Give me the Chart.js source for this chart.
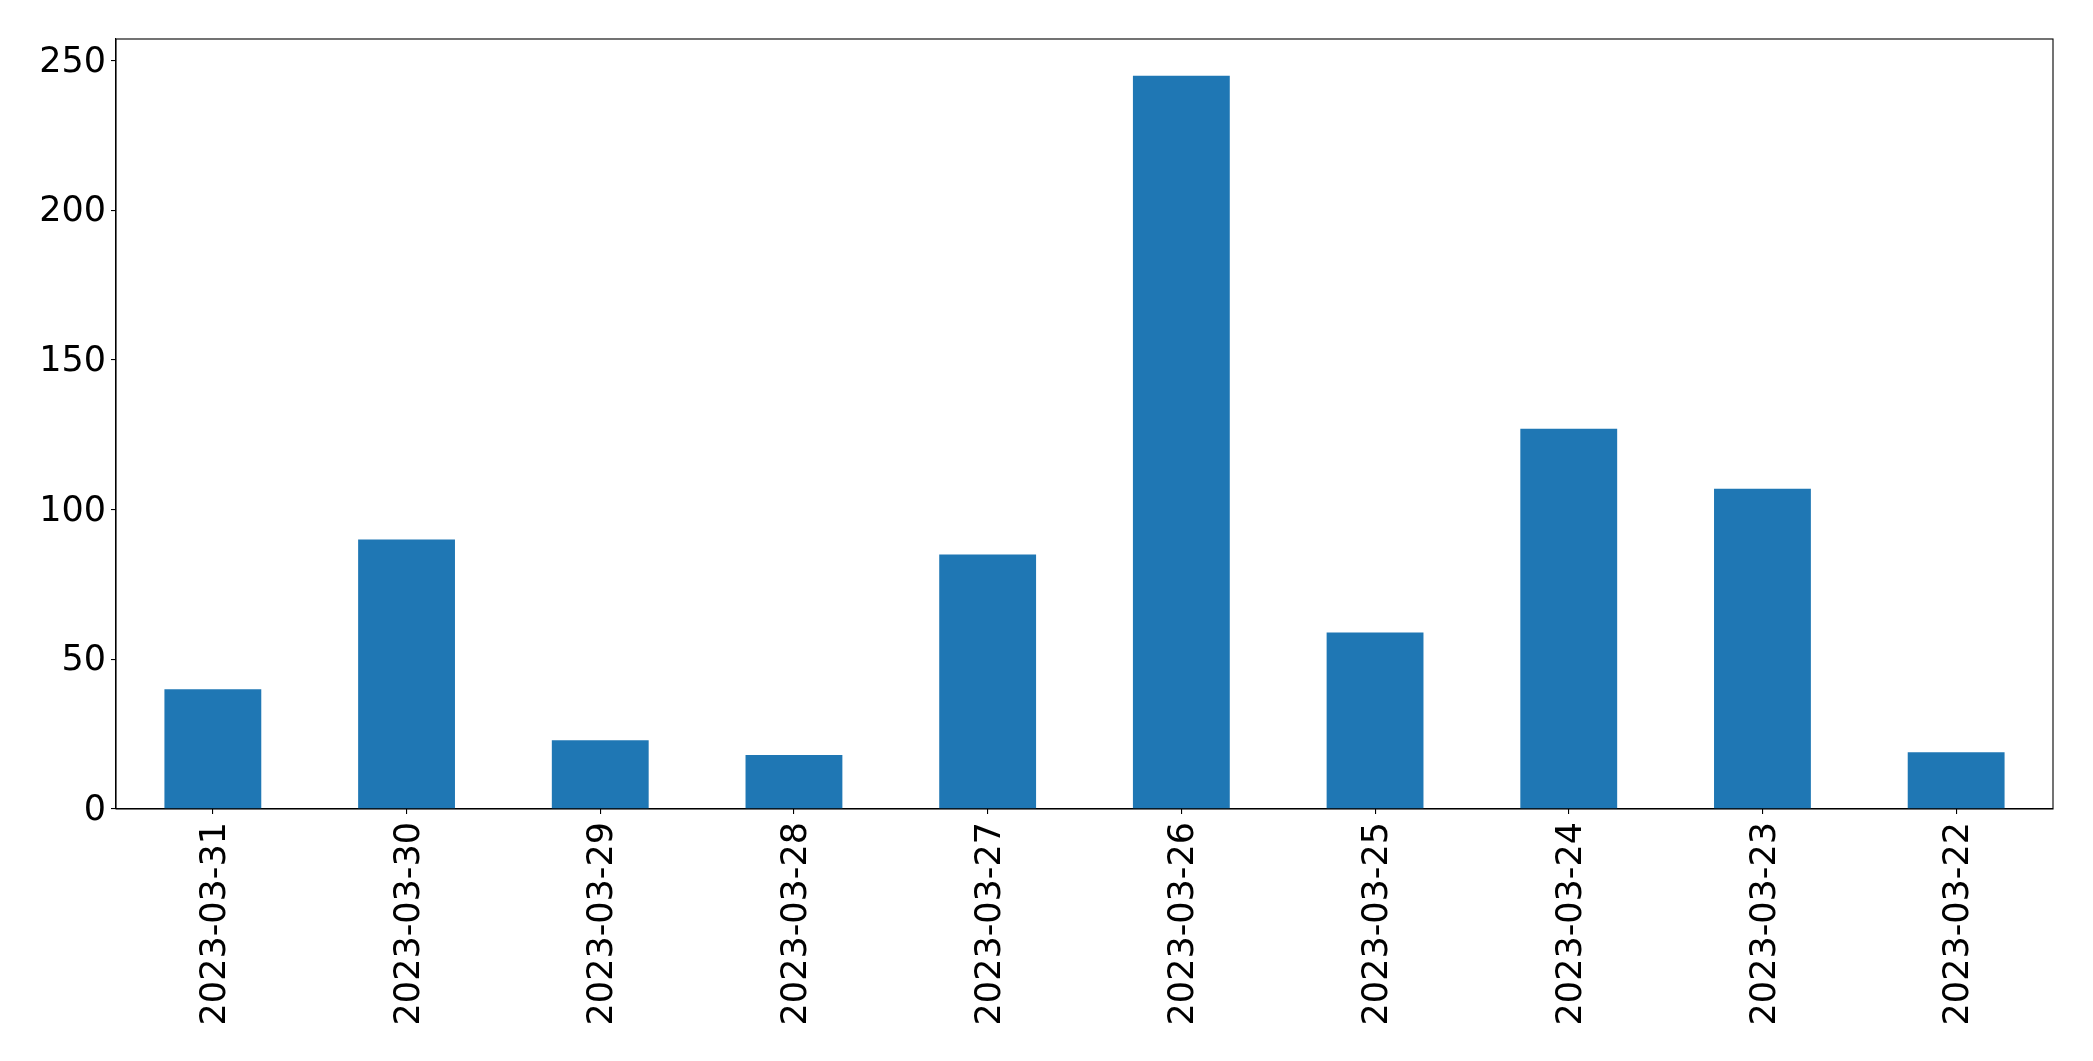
<!DOCTYPE html>
<html>
<head>
<meta charset="utf-8">
<script src="https://cdn.jsdelivr.net/npm/chart.js@4"></script>
<style>
  html, body { margin: 0; padding: 0; background: #ffffff; }
  #wrap { width: 2093px; height: 1061px; }
</style>
</head>
<body>
<div id="wrap"><canvas id="c" width="2093" height="1061"></canvas></div>
<script>
const categories = ["2023-03-31","2023-03-30","2023-03-29","2023-03-28","2023-03-27","2023-03-26","2023-03-25","2023-03-24","2023-03-23","2023-03-22"];
const values = [40, 90, 23, 18, 85, 245, 59, 127, 107, 19];
const yTicks = [0, 50, 100, 150, 200, 250];

const FONT = "'DejaVu Sans', sans-serif";

const framePlugin = {
  id: 'frame',
  afterDraw(chart) {
    const a = chart.chartArea, ctx = chart.ctx;
    ctx.save();
    ctx.strokeStyle = '#000';
    ctx.lineWidth = 1.1;
    ctx.strokeRect(a.left, a.top, a.right - a.left, a.bottom - a.top);
    ctx.restore();
  }
};

new Chart(document.getElementById('c'), {
  type: 'bar',
  data: {
    labels: categories,
    datasets: [{
      data: values,
      backgroundColor: '#1f77b4',
      borderWidth: 0,
      barPercentage: 0.5,
      categoryPercentage: 1.0
    }]
  },
  options: {
    responsive: false,
    devicePixelRatio: 1,
    animation: false,
    layout: { padding: { top: 39, right: 40, left: 0, bottom: 0 } },
    plugins: { legend: { display: false }, tooltip: { enabled: false } },
    scales: {
      x: {
        offset: true,
        afterFit(scale) { scale.height = 252; },
        grid: { display: true, offset: false, drawOnChartArea: false, drawTicks: true, tickLength: 5, color: '#000', lineWidth: 1.1 },
        border: { display: true, color: '#000', width: 1.1 },
        ticks: {
          autoSkip: false, minRotation: 90, maxRotation: 90, padding: 8, labelOffset: 3,
          color: '#000', font: { family: FONT, size: 35 }
        }
      },
      y: {
        min: 0,
        max: 257.25,
        afterFit(scale) { scale.width = 116; },
        afterBuildTicks(scale) { scale.ticks = yTicks.map(v => ({ value: v })); },
        grid: { display: true, drawOnChartArea: false, drawTicks: true, tickLength: 5, color: '#000', lineWidth: 1.1 },
        border: { display: true, color: '#000', width: 1.1 },
        ticks: {
          stepSize: 50, includeBounds: false, padding: 5, labelOffset: 2,
          color: '#000', font: { family: FONT, size: 35 }
        }
      }
    }
  },
  plugins: [framePlugin]
});
</script>
</body>
</html>
